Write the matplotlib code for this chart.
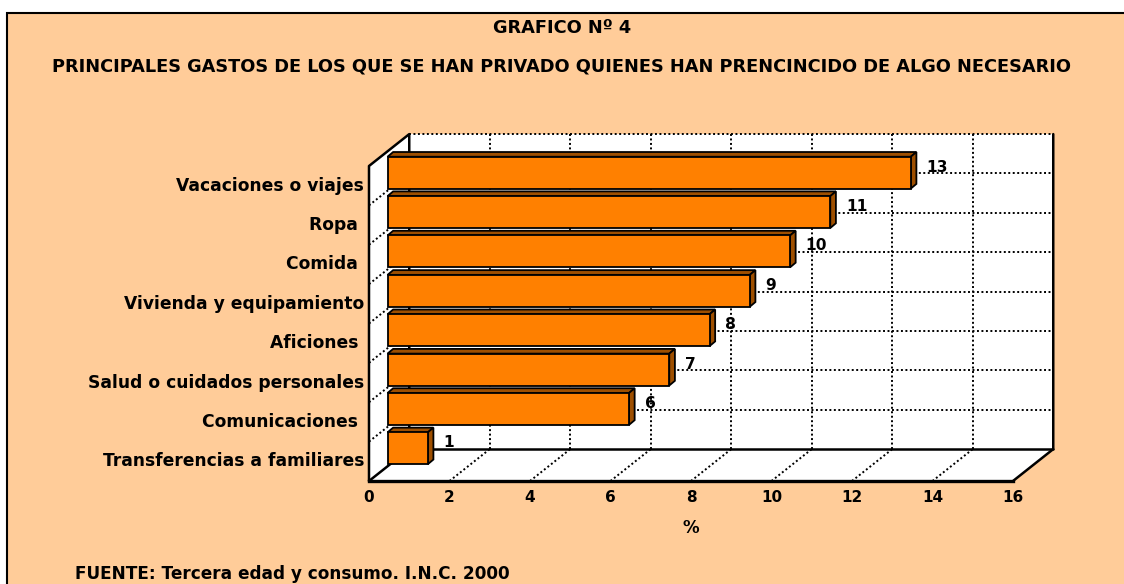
import matplotlib
matplotlib.use("Agg")
import matplotlib.pyplot as plt
from matplotlib.patches import Polygon, Rectangle

# data (top to bottom as shown)
categories = ["Vacaciones o viajes", "Ropa ", "Comida ", "Vivienda y equipamiento",
              "Aficiones ", "Salud o cuidados personales", "Comunicaciones ",
              "Transferencias a familiares"]
values = [13, 11, 10, 9, 8, 7, 6, 1]
xticks = [0, 2, 4, 6, 8, 10, 12, 14, 16]

title1 = "GRAFICO Nº 4"
title2 = "PRINCIPALES GASTOS DE LOS QUE SE HAN PRIVADO QUIENES HAN PRENCINCIDO DE ALGO NECESARIO"
source = "FUENTE: Tercera edad y consumo. I.N.C. 2000"

W, H = 1124, 584
bg = "#FFCC99"
orange = "#FF8000"
dark = "#9E4F00"

# 3d look
dX, dY = 1.0, 0.81        # depth of the chart box
ox, oy = 0.46, 0.33       # front plane of the bars
bx, by = 0.14, 0.12       # bar thickness
bh = 0.81                 # bar height
xmax = 16
n = len(categories)

fig = plt.figure(figsize=(W / 100, H / 100), dpi=100, facecolor="white")
fig.patches.append(Rectangle((7 / W, -0.1), 1.2, 1.1 - 13 / H, transform=fig.transFigure,
                             facecolor=bg, edgecolor="black", lw=1.5, zorder=-1))

ax = fig.add_axes([0, 0, 1, 1])
sx, sy = 40.25, 39.375
ax.set_xlim(-369 / sx, (W - 369) / sx)
ax.set_ylim(-(H - 481) / sy, 481 / sy)
ax.axis("off")

# walls and floor
back = Polygon([(dX, dY), (xmax + dX, dY), (xmax + dX, n + dY), (dX, n + dY)], fc="white", ec="none", zorder=1)
floor = Polygon([(0, 0), (xmax, 0), (xmax + dX, dY), (dX, dY)], fc="white", ec="none", zorder=1)
left = Polygon([(0, 0), (dX, dY), (dX, n + dY), (0, n)], fc="white", ec="none", zorder=1)
for p in (back, floor, left):
    ax.add_patch(p)

dot = dict(color="black", lw=1.4, ls=(0, (1, 1.3)), zorder=2)
for t in xticks[1:-1]:
    ax.plot([t + dX, t + dX], [dY, n + dY], **dot)
    ax.plot([t, t + dX], [0, dY], **dot)
for k in range(1, n):
    ax.plot([dX, xmax + dX], [k + dY, k + dY], **dot)
    ax.plot([0, dX], [k, k + dY], **dot)
ax.plot([dX, xmax + dX], [n + dY, n + dY], **dot)

solid = dict(color="black", lw=1.8, zorder=3, solid_capstyle="round")
ax.plot([0, xmax], [0, 0], color="black", lw=2.4, zorder=3)
ax.plot([xmax, xmax + dX, xmax + dX], [0, dY, n + dY], **solid)
ax.plot([dX, xmax + dX], [dY, dY], **solid)
ax.plot([0, dX], [0, dY], **solid)
ax.plot([0, 0, dX, dX], [0, n, n + dY, dY], **solid)

# bars
for i, (lab, v) in enumerate(zip(categories, values)):
    c = n - 1 - i + 0.5
    x0, x1 = ox, ox + v
    yb = c - bh / 2 + oy
    yt = yb + bh
    ax.add_patch(Polygon([(x0, yt), (x1, yt), (x1 + bx, yt + by), (x0 + bx, yt + by)],
                         fc=dark, ec="black", lw=1.3, zorder=5))
    ax.add_patch(Polygon([(x1, yb), (x1 + bx, yb + by), (x1 + bx, yt + by), (x1, yt)],
                         fc=dark, ec="black", lw=1.3, zorder=5))
    ax.add_patch(Polygon([(x0, yb), (x1, yb), (x1, yt), (x0, yt)],
                         fc=orange, ec="black", lw=1.3, zorder=6))
    ax.text(x1 + 0.39, c + oy + 0.14, str(v), ha="left", va="center",
            fontsize=11.2, fontweight="bold", zorder=7)
    ax.text(-0.12, c, lab, ha="right", va="center", fontsize=12.3, fontweight="bold")

for t in xticks:
    ax.text(t, -0.43, str(t), ha="center", va="center", fontsize=11, fontweight="bold")
ax.text(xmax / 2, -1.19, "%", ha="center", va="center", fontsize=12, fontweight="bold")

fig.text(0.5, 1 - 28 / H, title1, ha="center", va="center", fontsize=12.8, fontweight="bold")
fig.text(0.5, 1 - 66.5 / H, title2, ha="center", va="center", fontsize=12.8, fontweight="bold")
fig.text(75 / W, 1 - 583 / H, source, ha="left", va="bottom", fontsize=12.2, fontweight="bold")

fig.savefig("out.png", dpi=100, facecolor=fig.get_facecolor())
